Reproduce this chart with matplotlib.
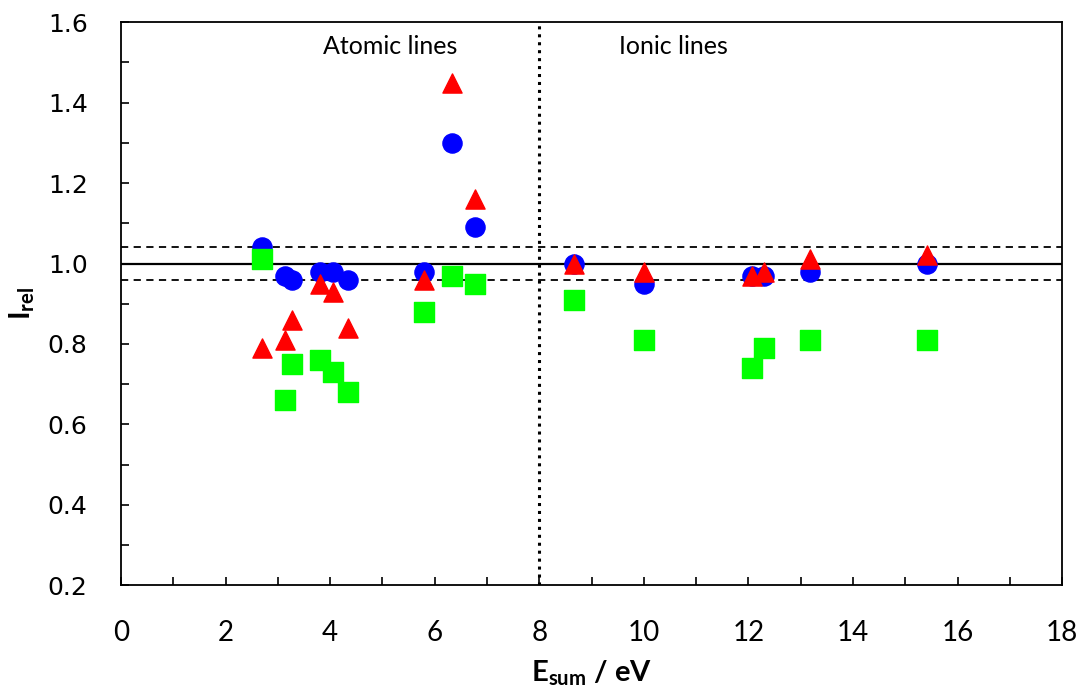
import numpy as np
import matplotlib
matplotlib.use("Agg")
import matplotlib.pyplot as plt
from matplotlib.ticker import MultipleLocator

# relative intensities vs summed energy
e_sum = [2.70, 3.14, 3.27, 3.81, 4.06, 4.34, 5.80, 6.33, 6.77,
         8.66, 10.0, 12.07, 12.30, 13.18, 15.42]
blue = [1.04, 0.97, 0.96, 0.98, 0.98, 0.96, 0.98, 1.30, 1.09,
        1.00, 0.95, 0.97, 0.97, 0.98, 1.00]
red = [0.79, 0.81, 0.86, 0.95, 0.93, 0.84, 0.96, 1.45, 1.16,
       1.00, 0.98, 0.97, 0.98, 1.01, 1.02]
green = [1.01, 0.66, 0.75, 0.76, 0.73, 0.68, 0.88, 0.97, 0.95,
         0.91, 0.81, 0.74, 0.79, 0.81, 0.81]

plt.rcParams['mathtext.fontset'] = 'custom'
plt.rcParams['mathtext.rm'] = 'Lato'
plt.rcParams['mathtext.bf'] = 'Lato:bold'

fig = plt.figure(figsize=(10.86, 6.95), dpi=100)
ax = fig.add_axes([0.1114, 0.158, 0.8666, 0.810])

ax.axhline(1.0, color='black', lw=1.6, zorder=1)
ax.axhline(1.04, color='black', lw=1.3, ls=(0, (4, 3)), zorder=1)
ax.axhline(0.96, color='black', lw=1.3, ls=(0, (4, 3)), zorder=1)
ax.axvline(8, color='black', lw=2.2, ls=(0, (1, 1.6)), zorder=1)

ax.scatter(e_sum, blue, s=190, marker='o', color='#0000ff', zorder=3)
ax.scatter(e_sum, green, s=210, marker='s', color='#00ff00', zorder=3)
ax.scatter(e_sum, red, s=190, marker='^', color='#ff0000', zorder=4)

ax.text(5.15, 1.54, 'Atomic lines', ha='center', va='center', fontsize=18, family='Lato')
ax.text(10.56, 1.54, 'Ionic lines', ha='center', va='center', fontsize=18, family='Lato')

ax.set_xlim(0, 18)
ax.set_ylim(0.2, 1.6)
ax.xaxis.set_major_locator(MultipleLocator(2))
ax.xaxis.set_minor_locator(MultipleLocator(1))
ax.yaxis.set_major_locator(MultipleLocator(0.2))
ax.yaxis.set_minor_locator(MultipleLocator(0.1))
ax.yaxis.set_major_formatter(matplotlib.ticker.FormatStrFormatter('%.1f'))
ax.tick_params(which='both', direction='in', length=6, width=1.2, top=False, right=False)
ax.tick_params(axis='x', which='major', pad=25, labelsize=20)
ax.tick_params(axis='y', which='major', pad=24, labelsize=18)
for lab in ax.get_xticklabels():
    lab.set_family('Lato')
for lab in ax.get_yticklabels():
    lab.set_family('DejaVu Sans')
for sp in ax.spines.values():
    sp.set_linewidth(1.3)

ax.set_xlabel(r'$\mathbf{E_{sum}}$ / eV', fontsize=21, fontweight='bold', family='Lato', labelpad=9)
ax.set_ylabel(r'$\mathbf{I_{rel}}$', fontsize=21, labelpad=8)

fig.savefig('out.png', dpi=100)
